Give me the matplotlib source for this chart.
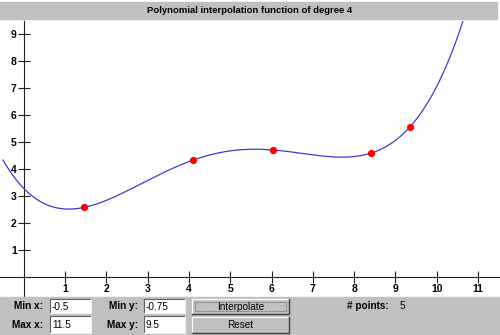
import numpy as np
import matplotlib.pyplot as plt
from matplotlib.patches import Rectangle

# interpolation nodes
px = [1.46, 4.11, 6.03, 8.40, 9.36]
py = [2.57, 4.33, 4.70, 4.58, 5.57]

min_x, max_x = -0.5, 11.5
min_y, max_y = -0.75, 9.5
xticks = [1, 2, 3, 4, 5, 6, 7, 8, 9, 10, 11]
yticks = [1, 2, 3, 4, 5, 6, 7, 8, 9]
title = "Polynomial interpolation function of degree 4"

coef = np.polyfit(px, py, len(px) - 1)
xs = np.linspace(min_x, max_x, 600)
ys = np.polyval(coef, xs)

W, H = 500, 335
fig = plt.figure(figsize=(W / 100, H / 100), dpi=100)
fig.patch.set_facecolor('white')
plt.rcParams['font.family'] = ['Liberation Sans', 'DejaVu Sans']

# plot area in pixels: top 20.5, bottom 297
top_px, bot_px = 20.5, 297
ax = fig.add_axes([0, 1 - bot_px / H, 1, (bot_px - top_px) / H])
ax.set_facecolor('white')
ax.set_xlim(min_x - 3 / 41.3, max_x + 1.3 / 41.3)
ax.set_ylim(min_y, max_y)

ax.plot(xs, ys, color='#3a3ad8', lw=0.9, zorder=3)
ax.plot(px, py, 'o', color='#ff0000', ms=4.2, mec='#ff0000', zorder=4)

for s in ['top', 'right']:
    ax.spines[s].set_visible(False)
ax.spines['left'].set_position(('data', 0))
ax.spines['bottom'].set_position(('data', 0))
for s in ['left', 'bottom']:
    ax.spines[s].set_color('#202020')
    ax.spines[s].set_linewidth(0.8)
ax.set_xticks(xticks)
ax.set_yticks(yticks)
ax.tick_params(direction='inout', length=8, width=0.8, color='#202020',
               labelsize=7.5, pad=1)
for lab in ax.get_xticklabels() + ax.get_yticklabels():
    lab.set_fontweight('bold')

# title bar and control panel drawn in pixel space
ui = fig.add_axes([0, 0, 1, 1], zorder=5)
ui.set_xlim(0, W)
ui.set_ylim(H, 0)
ui.axis('off')
ui.patch.set_alpha(0)

gray = '#c0c0c0'
ui.add_patch(Rectangle((0, 2), 497, 17, color=gray))
ui.text(250, 10.5, title, ha='center', va='center', fontsize=6.8,
        fontweight='bold')

ui.add_patch(Rectangle((0, 297), 500, 37, color=gray))


def textbox(x, y, w, h, txt):
    ui.add_patch(Rectangle((x, y), w, h, facecolor='white', edgecolor='none'))
    ui.plot([x, x, x + w], [y + h, y, y], color='#606060', lw=0.8)
    ui.plot([x + w, x + w, x], [y, y + h, y + h], color='#f0f0f0', lw=0.8)
    ui.text(x + 2, y + h / 2 + 0.5, txt, ha='left', va='center', fontsize=7.2)


def button(x, y, w, h, txt, focus=False):
    ui.add_patch(Rectangle((x, y), w, h, facecolor=gray, edgecolor='none'))
    ui.plot([x, x, x + w], [y + h, y, y], color='white', lw=0.8)
    ui.plot([x + w, x + w, x], [y, y + h, y + h], color='#404040', lw=1.0)
    if focus:
        ui.add_patch(Rectangle((x + 3, y + 3), w - 6, h - 6, fill=False,
                               ec='#404040', lw=0.5, ls=(0, (1, 1))))
    ui.text(x + w / 2, y + h / 2 + 0.5, txt, ha='center', va='center',
            fontsize=7.2)


lab = dict(ha='right', va='center', fontsize=7.2, fontweight='bold')
ui.text(43, 306, 'Min x:', **lab)
ui.text(43, 325, 'Max x:', **lab)
ui.text(138, 306, 'Min y:', **lab)
ui.text(138, 325, 'Max y:', **lab)
textbox(50, 299, 41, 14, str(min_x))
textbox(50, 316, 41, 17, str(max_x))
textbox(144, 299, 41, 14, str(min_y))
textbox(144, 316, 41, 17, str(max_y))
button(192, 299, 97, 15, 'Interpolate', focus=True)
button(192, 317, 97, 16, 'Reset')
ui.text(347, 306, '# points:', ha='left', va='center', fontsize=7.2,
        fontweight='bold')
ui.text(400, 306, str(len(px)), ha='left', va='center', fontsize=7.2)

fig.savefig('out.png', dpi=100, facecolor='white')
